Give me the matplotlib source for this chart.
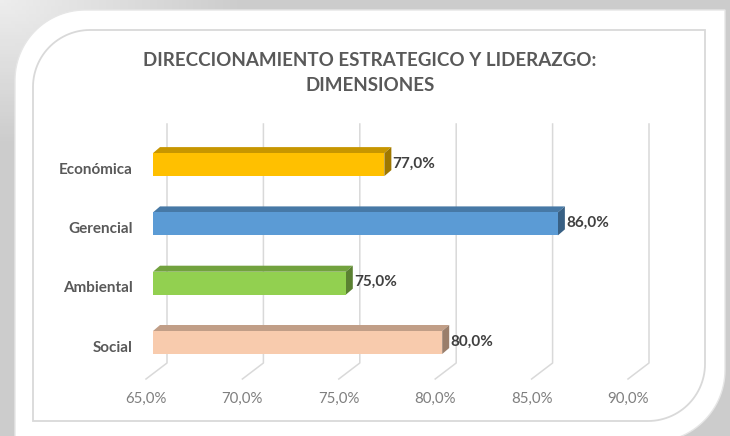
import numpy as np
import matplotlib.pyplot as plt
from matplotlib.patches import Polygon
from matplotlib.colors import to_rgb

# datos del grafico
categorias = ["Social", "Ambiental", "Gerencial", "Económica"]
valores = [80.0, 75.0, 86.0, 77.0]
colores = ["#F8CBAD", "#92D050", "#5B9BD5", "#FFC000"]
ticks = [65, 70, 75, 80, 85, 90]
etiquetas_ticks = ["65,0%", "70,0%", "75,0%", "80,0%", "85,0%", "90,0%"]
titulo = "DIRECCIONAMIENTO ESTRATEGICO Y LIDERAZGO:\nDIMENSIONES"

plt.rcParams['font.family'] = ['Lato', 'DejaVu Sans']

fig = plt.figure(figsize=(7.3, 4.36), dpi=100)
fig.patch.set_facecolor("#d2d2d2")


def esquina_redonda(x0, y0, x1, y1, r_tl, r_br, n=30):
    # rectangulo con esquina superior izquierda e inferior derecha redondeadas (pixeles, y hacia abajo)
    pts = []
    a = np.linspace(np.pi, 1.5 * np.pi, n)
    pts += list(zip(x0 + r_tl + r_tl * np.cos(a), y0 + r_tl + r_tl * np.sin(a)))
    pts += [(x1, y0)]
    a = np.linspace(0, 0.5 * np.pi, n)
    pts += list(zip(x1 - r_br + r_br * np.cos(a), y1 - r_br + r_br * np.sin(a)))
    pts += [(x0, y1)]
    return pts


# fondo y marco
bg = fig.add_axes([0, 0, 1, 1])
bg.set_xlim(0, 730)
bg.set_ylim(436, 0)
bg.axis("off")
gx = np.linspace(0, 1, 200)
gy = np.linspace(0, 1, 120)
GX, GY = np.meshgrid(gx, gy)
grad = 0.93 - 0.13 * np.clip(np.sqrt(GX ** 2 + GY ** 2) * 3, 0, 1)
bg.imshow(np.dstack([grad] * 3), extent=(0, 730, 436, 0), aspect="auto", zorder=0)
bg.add_patch(Polygon(esquina_redonda(15, 10, 725, 442, 70, 72), closed=True,
                     facecolor="white", edgecolor="#e6e6e6", lw=1.0, zorder=1))
bg.add_patch(Polygon(esquina_redonda(33, 30, 705, 421, 57, 57), closed=True,
                     facecolor="white", edgecolor="#d9d9d9", lw=1.3, zorder=2))

# area del grafico
ax = fig.add_axes([0, 0, 1, 1])
ax.set_facecolor("none")
ax.axis("off")
px = 19.28   # pixeles por punto porcentual
py = 59.3    # pixeles por categoria
x_ini = 65 - 167 / px
ax.set_xlim(x_ini, x_ini + 730 / px)
ax.set_ylim((342.5 - 436) / py, 342.5 / py)

# lineas de division (pared del fondo y piso)
y_base = (342.5 - 363) / py
y_top = (342.5 - 124) / py
fx = 21 / px
fy = 16 / py
for t, lab in zip(ticks, etiquetas_ticks):
    ax.plot([t, t, t - fx], [y_top, y_base, y_base - fy], color="#d9d9d9", lw=1.1, zorder=1)
    ax.text(t - fx, (342.5 - 399) / py, lab, ha="center", va="center",
            fontsize=10.8, color="#7f7f7f")

# barras 3D
dx = 7 / px
dy = 6 / py
h = 11.5 / py
x0 = 65 - 14 / px
for i, (cat, v, c) in enumerate(zip(categorias, valores, colores)):
    rgb = np.array(to_rgb(c))
    xe = v - 14 / px
    frente = [(x0, i - h), (xe, i - h), (xe, i + h), (x0, i + h)]
    arriba = [(x0, i + h), (xe, i + h), (xe + dx, i + h + dy), (x0 + dx, i + h + dy)]
    lado = [(xe, i - h), (xe + dx, i - h + dy), (xe + dx, i + h + dy), (xe, i + h)]
    ax.add_patch(Polygon(arriba, closed=True, facecolor=rgb * 0.78, edgecolor="none", zorder=3))
    ax.add_patch(Polygon(lado, closed=True, facecolor=rgb * 0.62, edgecolor="none", zorder=3))
    ax.add_patch(Polygon(frente, closed=True, facecolor=c, edgecolor="none", zorder=4))
    ax.text(xe + dx + 1 / px, i + 0.02, f"{v:.1f}%".replace(".", ","), ha="left", va="center",
            fontsize=11, fontweight="bold", color="#404040", zorder=5)
    ax.text(x_ini + 133 / px, i - 5 / py, cat, ha="right", va="center",
            fontsize=11, fontweight="bold", color="#595959")

fig.text(370 / 730, 1 - 73 / 436, titulo, ha="center", va="center", fontsize=13.5,
         fontweight="bold", color="#595959", linespacing=1.55)

plt.savefig("out.png", dpi=100)
